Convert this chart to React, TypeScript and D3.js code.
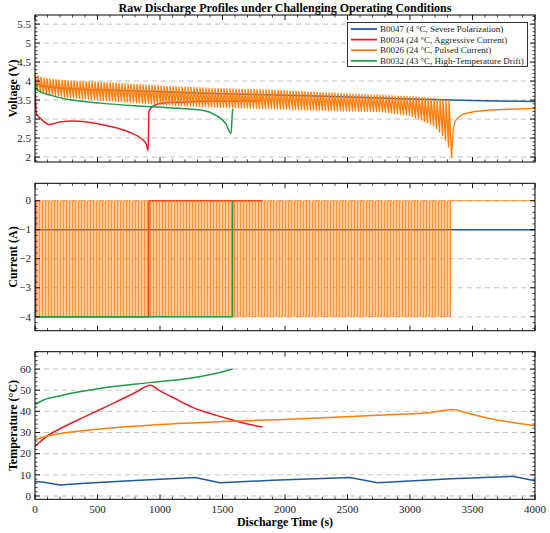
import React from "react";
import * as d3 from "d3";

// ---------- data ----------
const seriesNames = [
  "B0047 (4 °C, Severe Polarization)",
  "B0034 (24 °C, Aggressive Current)",
  "B0026 (24 °C, Pulsed Current)",
  "B0032 (43 °C, High-Temperature Drift)",
];
const seriesColors = ["#1f5a9e", "#e3202a", "#ff7f0e", "#22994a"];

const xTicks = [0, 500, 1000, 1500, 2000, 2500, 3000, 3500, 4000];
const voltTicks = [2, 2.5, 3, 3.5, 4, 4.5, 5, 5.5];
const currTicks = [-4, -3, -2, -1, 0];
const tempTicks = [0, 10, 20, 30, 40, 50, 60];

// B0047
const b47VoltT = [0, 5, 30, 100, 300, 600, 1000, 1500, 2000, 2500, 3000, 3500, 4000];
const b47VoltV = [4.22, 4.0, 3.9, 3.85, 3.8, 3.76, 3.72, 3.67, 3.63, 3.58, 3.53, 3.49, 3.46];
const b47CurrT = [0, 1, 4000];
const b47CurrV = [0, -1, -1];
const b47TempT = [0, 60, 200, 400, 800, 1280, 1480, 1900, 2520, 2740, 3330, 3820, 4000];
const b47TempV = [6.8, 6.6, 5.2, 6.0, 7.3, 8.7, 6.3, 7.4, 8.7, 6.3, 8.2, 9.3, 7.2];

// B0034
const b34VoltT = [0, 10, 50, 110, 200, 300, 400, 530, 650, 750, 850, 890, 905, 912, 930, 960, 1000, 1100, 1300, 1500, 1820];
const b34VoltV = [3.95, 3.15, 3.0, 2.86, 2.92, 2.95, 2.93, 2.86, 2.77, 2.66, 2.49, 2.35, 2.17, 3.2, 3.3, 3.37, 3.41, 3.44, 3.46, 3.47, 3.48];
const b34CurrT = [0, 1, 910, 911, 1820];
const b34CurrV = [0, -4, -4, 0, 0];
const b34TempT = [0, 40, 100, 200, 400, 600, 800, 925, 990, 1060, 1120, 1200, 1280, 1360, 1450, 1580, 1700, 1820];
const b34TempV = [23.5, 25.5, 28.5, 31.8, 37.5, 43.1, 48.8, 52.3, 50, 47.8, 46.1, 43.6, 41.4, 39.7, 38.1, 35.9, 34, 32.6];

// B0026 (pulsed): envelopes of the pulse train, then recovery
const b26PulseEnd = 3333;
const b26PulsePeriod = 24;
const b26UpperT = [0, 30, 100, 300, 527, 1068, 1500, 1946, 2400, 2760, 3064, 3200, 3300, 3333];
const b26UpperV = [4.22, 4.12, 4.06, 4.0, 3.97, 3.86, 3.8, 3.76, 3.68, 3.63, 3.58, 3.54, 3.5, 3.45];
const b26LowerT = [0, 30, 100, 300, 527, 1068, 1500, 1946, 2400, 2760, 3000, 3130, 3200, 3265, 3300, 3333];
const b26LowerV = [3.82, 3.72, 3.65, 3.56, 3.5, 3.37, 3.31, 3.27, 3.22, 3.2, 3.1, 2.92, 2.8, 2.55, 2.35, 2.0];
const b26RecovT = [3333, 3345, 3360, 3400, 3430, 3520, 3640, 3800, 4000];
const b26RecovV = [2.0, 2.7, 2.95, 3.08, 3.14, 3.2, 3.24, 3.26, 3.28];
const b26CurrLevels = [0, -4];
const b26TempT = [0, 60, 200, 500, 1000, 1500, 2000, 2790, 3170, 3344, 3450, 3550, 3655, 3850, 4000];
const b26TempV = [26.5, 27.8, 29.5, 31.5, 33.8, 35.2, 36.2, 38.3, 39.5, 40.9, 39.3, 37.8, 36.4, 34.5, 33.2];

// B0032
const b32VoltT = [0, 5, 20, 122, 257, 527, 797, 1068, 1338, 1446, 1527, 1568, 1581, 1585];
const b32VoltV = [4.1, 3.85, 3.76, 3.63, 3.52, 3.42, 3.35, 3.3, 3.23, 3.1, 2.88, 2.62, 3.23, 3.27];
const b32CurrT = [0, 1, 1580, 1581];
const b32CurrV = [0, -4, -4, 0];
const b32TempT = [0, 68, 203, 527, 932, 1250, 1473, 1581];
const b32TempV = [43.3, 45.4, 47.4, 50.9, 53.7, 55.8, 58.3, 60];

type P = [number, number];
const zip = (t: number[], v: number[]): P[] => t.map((x, i) => [x, v[i]]);

function buildPulsedVoltage(): P[] {
  const up = d3.scaleLinear().domain(b26UpperT).range(b26UpperV).clamp(true);
  const lo = d3.scaleLinear().domain(b26LowerT).range(b26LowerV).clamp(true);
  const pts: P[] = [];
  for (let t = 0; t < b26PulseEnd; t += b26PulsePeriod) {
    pts.push([t, up(t)]);
    const tl = Math.min(t + b26PulsePeriod * 0.85, b26PulseEnd);
    pts.push([tl, lo(tl)]);
  }
  return pts.concat(zip(b26RecovT, b26RecovV));
}
function buildPulsedCurrent(): P[] {
  const pts: P[] = [];
  const h = b26PulsePeriod / 2;
  for (let t = 0; t < b26PulseEnd; t += b26PulsePeriod) {
    pts.push([t, b26CurrLevels[0]]);
    pts.push([t + 0.01, b26CurrLevels[1]]);
    pts.push([t + h, b26CurrLevels[1]]);
    pts.push([t + h + 0.01, b26CurrLevels[0]]);
  }
  pts.push([b26PulseEnd, b26CurrLevels[0]]);
  pts.push([4000, b26CurrLevels[0]]);
  return pts;
}

// ---------- layout ----------
const W = 550, H = 533;
const X0 = 35, X1 = 535;
const FONT = "'Liberation Serif', 'Times New Roman', serif";

const x = d3.scaleLinear().domain([0, 4000]).range([X0, X1]);

type Panel = {
  y0: number; y1: number; domain: [number, number]; ticks: number[]; minor: number;
  label: string; fmt: (v: number) => string; data: P[][]; widths: number[]; labelX: boolean;
  curve: d3.CurveFactory[];
};

const panels: Panel[] = [
  {
    y0: 15, y1: 162, domain: [1.87, 5.74], ticks: voltTicks, minor: 0.1, label: "Voltage (V)",
    fmt: (v) => String(v),
    data: [zip(b47VoltT, b47VoltV), zip(b34VoltT, b34VoltV), buildPulsedVoltage(), zip(b32VoltT, b32VoltV)],
    widths: [1.5, 1.5, 1.35, 1.5], labelX: false,
    curve: [d3.curveMonotoneX, d3.curveMonotoneX, d3.curveLinear, d3.curveMonotoneX],
  },
  {
    y0: 183.3, y1: 330.7, domain: [-4.48, 0.6], ticks: currTicks, minor: 0.2, label: "Current (A)",
    fmt: (v) => (v < 0 ? "\u2212" + Math.abs(v) : String(v)),
    data: [zip(b47CurrT, b47CurrV), zip(b34CurrT, b34CurrV), buildPulsedCurrent(), zip(b32CurrT, b32CurrV)],
    widths: [1.5, 1.5, 0.85, 1.5], labelX: false,
    curve: [d3.curveLinear, d3.curveLinear, d3.curveLinear, d3.curveLinear],
  },
  {
    y0: 351.7, y1: 499.3, domain: [-1.56, 68.2], ticks: tempTicks, minor: 2, label: "Temperature (°C)",
    fmt: (v) => String(v),
    data: [zip(b47TempT, b47TempV), zip(b34TempT, b34TempV), zip(b26TempT, b26TempV), zip(b32TempT, b32TempV)],
    widths: [1.5, 1.5, 1.5, 1.5], labelX: true,
    curve: [d3.curveLinear, d3.curveMonotoneX, d3.curveMonotoneX, d3.curveMonotoneX],
  },
];

function PanelView({ p, idx }: { p: Panel; idx: number }) {
  const y = d3.scaleLinear().domain(p.domain).range([p.y1, p.y0]);
  const xMinor = d3.range(0, 4001, 100).filter((v) => v % 500 !== 0);
  const yMinor = d3
    .range(Math.ceil(p.domain[0] / p.minor) * p.minor, p.domain[1], p.minor)
    .map((v) => Math.round(v * 1000) / 1000)
    .filter((v) => !p.ticks.some((t) => Math.abs(t - v) < 1e-6));
  const clipId = `clip${idx}`;
  const maj = 5, mn = 2.6;
  return (
    <g>
      <defs>
        <clipPath id={clipId}>
          <rect x={X0} y={p.y0} width={X1 - X0} height={p.y1 - p.y0} />
        </clipPath>
      </defs>
      {p.ticks.map((t) => (
        <line key={"g" + t} x1={X0} x2={X1} y1={y(t)} y2={y(t)} stroke="#b4b4b4" strokeWidth={0.8} strokeDasharray="5,4" />
      ))}
      <g clipPath={`url(#${clipId})`}>
        {p.data.map((d, i) => {
          const line = d3.line<P>().x((q) => x(q[0])).y((q) => y(q[1])).curve(p.curve[i]);
          return (
            <path key={i} d={line(d) || ""} fill="none" stroke={seriesColors[i]} strokeWidth={p.widths[i]} strokeLinejoin="round" />
          );
        })}
      </g>
      <rect x={X0} y={p.y0} width={X1 - X0} height={p.y1 - p.y0} fill="none" stroke="#000" strokeWidth={1} />
      {xTicks.map((t) => (
        <g key={"xt" + t}>
          <line x1={x(t)} x2={x(t)} y1={p.y1} y2={p.y1 - maj} stroke="#000" strokeWidth={0.9} />
          <line x1={x(t)} x2={x(t)} y1={p.y0} y2={p.y0 + maj} stroke="#000" strokeWidth={0.9} />
        </g>
      ))}
      {xMinor.map((t) => (
        <g key={"xm" + t}>
          <line x1={x(t)} x2={x(t)} y1={p.y1} y2={p.y1 - mn} stroke="#000" strokeWidth={0.7} />
          <line x1={x(t)} x2={x(t)} y1={p.y0} y2={p.y0 + mn} stroke="#000" strokeWidth={0.7} />
        </g>
      ))}
      {p.ticks.map((t) => (
        <g key={"yt" + t}>
          <line x1={X0} x2={X0 + maj} y1={y(t)} y2={y(t)} stroke="#000" strokeWidth={0.9} />
          <line x1={X1} x2={X1 - maj} y1={y(t)} y2={y(t)} stroke="#000" strokeWidth={0.9} />
          <text x={X0 - 4} y={y(t)} dy="0.34em" textAnchor="end" fontSize={11} fontFamily={FONT} fill="#222">
            {p.fmt(t)}
          </text>
        </g>
      ))}
      {yMinor.map((t) => (
        <g key={"ym" + t}>
          <line x1={X0} x2={X0 + mn} y1={y(t)} y2={y(t)} stroke="#000" strokeWidth={0.7} />
          <line x1={X1} x2={X1 - mn} y1={y(t)} y2={y(t)} stroke="#000" strokeWidth={0.7} />
        </g>
      ))}
      {p.labelX &&
        xTicks.map((t) => (
          <text key={"xl" + t} x={x(t)} y={p.y1 + 14} textAnchor="middle" fontSize={11} fontFamily={FONT} fill="#222">
            {t}
          </text>
        ))}
      <text
        transform={`translate(13,${(p.y0 + p.y1) / 2}) rotate(-90)`}
        textAnchor="middle"
        dy="0.35em"
        fontSize={12}
        fontWeight="bold"
        fontFamily={FONT}
      >
        {p.label}
      </text>
    </g>
  );
}

function Legend() {
  const lx = 347.5, ly = 22.5, lw = 180, lh = 44;
  return (
    <g>
      <rect x={lx} y={ly} width={lw} height={lh} fill="#fff" stroke="#000" strokeWidth={0.8} />
      {seriesNames.map((n, i) => {
        const cy = 29 + i * 10.6;
        return (
          <g key={n}>
            <line x1={351} x2={377} y1={cy} y2={cy} stroke={seriesColors[i]} strokeWidth={1.8} />
            <text x={380} y={cy} dy="0.34em" fontSize={9} fontFamily={FONT} fill="#222">
              {n}
            </text>
          </g>
        );
      })}
    </g>
  );
}

export default function App() {
  return (
    <svg
      width={W}
      height={H}
      viewBox={`0 0 ${W} ${H}`}
      style={{ position: "absolute", left: 0, top: 0, background: "#fff" }}
    >
      <rect x={0} y={0} width={W} height={H} fill="#fff" />
      <text x={(X0 + X1) / 2} y={12} textAnchor="middle" fontSize={12} fontWeight="bold" fontFamily={FONT}>
        Raw Discharge Profiles under Challenging Operating Conditions
      </text>
      {panels.map((p, i) => (
        <PanelView key={i} p={p} idx={i} />
      ))}
      <Legend />
      <text x={(X0 + X1) / 2} y={526} textAnchor="middle" fontSize={12} fontWeight="bold" fontFamily={FONT}>
        Discharge Time (s)
      </text>
    </svg>
  );
}
